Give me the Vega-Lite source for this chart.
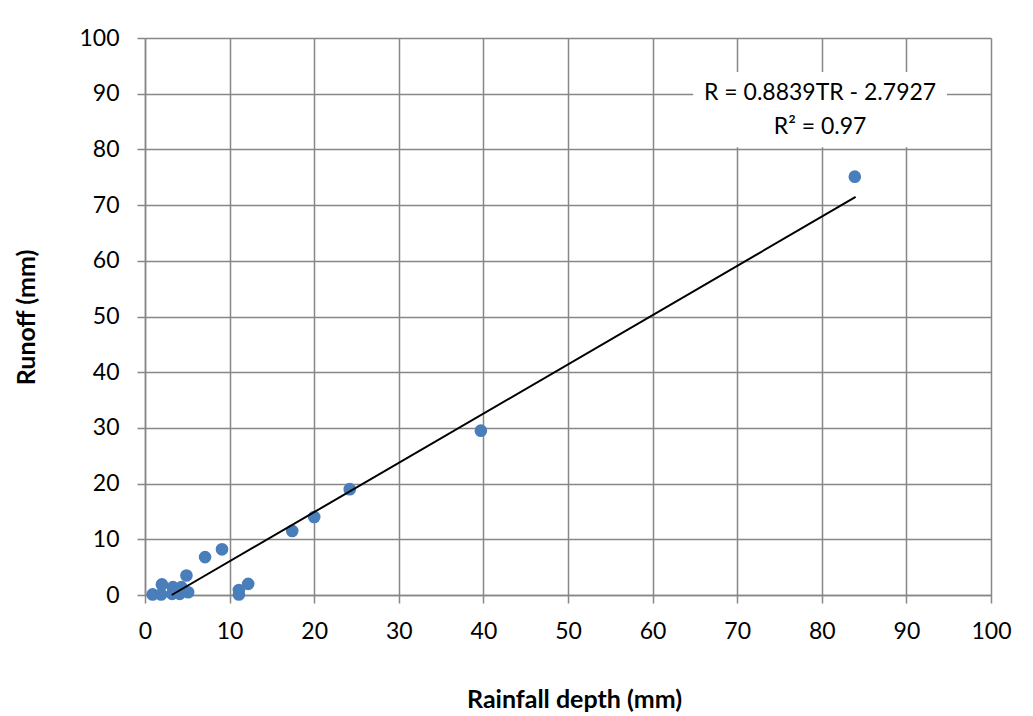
{
  "$schema": "https://vega.github.io/schema/vega-lite/v6.json",
  "autosize": {"type": "none"},
  "width": 846,
  "height": 557,
  "padding": {"left": 145, "top": 38, "right": 42, "bottom": 121},
  "background": "white",
  "config": {
    "view": {"stroke": null},
    "axis": {
      "gridColor": "#878787",
      "gridWidth": 1.5,
      "domainColor": "#878787",
      "domainWidth": 1.5,
      "tickColor": "#878787",
      "tickWidth": 1.5,
      "tickSize": 8,
      "labelFont": "Lato",
      "labelFontSize": 23,
      "labelColor": "#000000",
      "titleFont": "Lato",
      "titleFontSize": 25,
      "titleFontWeight": "bold",
      "titleColor": "#000000"
    }
  },
  "datasets": {
    "points": [
      {"rain": 0.9, "runoff": 0.1},
      {"rain": 1.9, "runoff": 0.1},
      {"rain": 2.0, "runoff": 1.9},
      {"rain": 3.2, "runoff": 0.2},
      {"rain": 3.3, "runoff": 1.4},
      {"rain": 4.1, "runoff": 0.2},
      {"rain": 4.3, "runoff": 1.4},
      {"rain": 4.9, "runoff": 3.5},
      {"rain": 5.1, "runoff": 0.5},
      {"rain": 7.1, "runoff": 6.8},
      {"rain": 9.1, "runoff": 8.2},
      {"rain": 11.1, "runoff": 0.1},
      {"rain": 11.1, "runoff": 0.9},
      {"rain": 12.2, "runoff": 2.0},
      {"rain": 17.4, "runoff": 11.5},
      {"rain": 20.0, "runoff": 14.0},
      {"rain": 24.2, "runoff": 19.0},
      {"rain": 39.7, "runoff": 29.5},
      {"rain": 83.9, "runoff": 75.1}
    ],
    "trend": [
      {"rain": 3.16, "runoff": 0},
      {"rain": 84.0, "runoff": 71.46}
    ],
    "note": [
      {"eq": "R = 0.8839TR - 2.7927", "r2": "R² = 0.97"}
    ]
  },
  "layer": [
    {
      "data": {"name": "points"},
      "mark": {"type": "point", "filled": true, "shape": "circle", "size": 160, "color": "#4A7EBB", "opacity": 1},
      "encoding": {
        "x": {
          "field": "rain", "type": "quantitative",
          "scale": {"domain": [0, 100], "nice": false, "zero": true},
          "axis": {
            "values": [0, 10, 20, 30, 40, 50, 60, 70, 80, 90, 100],
            "title": "Rainfall depth (mm)",
            "labelBaseline": "alphabetic",
            "labelPadding": 35,
            "labelFlush": false,
            "labelOverlap": false,
            "titleBaseline": "alphabetic",
            "titleX": 429,
            "titleY": 112
          }
        },
        "y": {
          "field": "runoff", "type": "quantitative",
          "scale": {"domain": [0, 100], "nice": false},
          "axis": {
            "values": [0, 10, 20, 30, 40, 50, 60, 70, 80, 90, 100],
            "title": "Runoff (mm)",
            "labelPadding": 18,
            "labelFlush": false,
            "labelOverlap": false,
            "titleBaseline": "alphabetic",
            "titleX": -111,
            "titleY": 279
          }
        }
      }
    },
    {
      "data": {"name": "note"},
      "mark": {"type": "rect", "color": "white"},
      "encoding": {
        "x": {"datum": 64.8, "type": "quantitative"},
        "x2": {"datum": 94.8},
        "y": {"datum": 80.4, "type": "quantitative"},
        "y2": {"datum": 93.9}
      }
    },
    {
      "data": {"name": "note"},
      "mark": {"type": "text", "font": "Lato", "fontSize": 23, "color": "#000000", "align": "center", "baseline": "middle"},
      "encoding": {
        "x": {"datum": 79.8, "type": "quantitative"},
        "y": {"datum": 90.1, "type": "quantitative"},
        "text": {"field": "eq"}
      }
    },
    {
      "data": {"name": "note"},
      "mark": {"type": "text", "font": "Lato", "fontSize": 23, "color": "#000000", "align": "center", "baseline": "middle"},
      "encoding": {
        "x": {"datum": 79.8, "type": "quantitative"},
        "y": {"datum": 84.1, "type": "quantitative"},
        "text": {"field": "r2"}
      }
    },
    {
      "data": {"name": "trend"},
      "mark": {"type": "line", "color": "#000000", "strokeWidth": 2},
      "encoding": {
        "x": {"field": "rain", "type": "quantitative"},
        "y": {"field": "runoff", "type": "quantitative"}
      }
    }
  ]
}
